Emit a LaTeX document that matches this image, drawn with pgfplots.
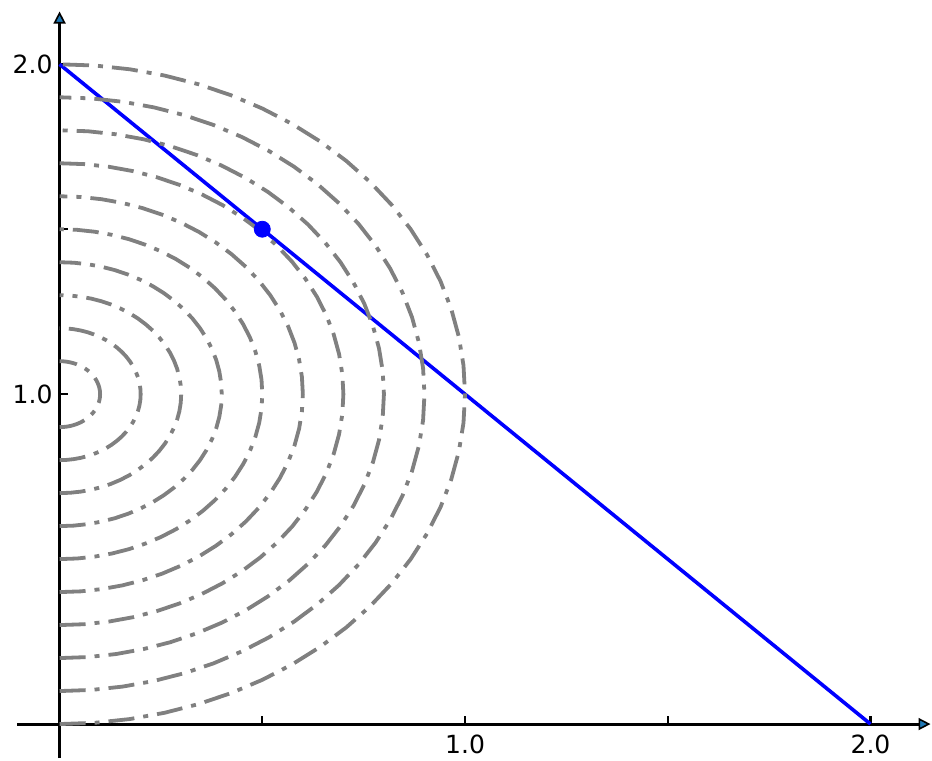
\documentclass[border=0pt]{standalone}
\usepackage{pgfplots}
\pgfplotsset{compat=1.18}
\usepackage{pgfplotstable}
\usepackage{fontspec}
\setmainfont{DejaVu Sans}
\usetikzlibrary{arrows.meta}
\definecolor{arrowblue}{RGB}{31,119,180}
\definecolor{curvegray}{RGB}{128,128,128}

% unit half circle, from -90 to 90 degrees in 5 degree steps
\pgfplotstableread{
c s
0.0000 -1.0000
0.0872 -0.9962
0.1736 -0.9848
0.2588 -0.9659
0.3420 -0.9397
0.4226 -0.9063
0.5000 -0.8660
0.5736 -0.8192
0.6428 -0.7660
0.7071 -0.7071
0.7660 -0.6428
0.8192 -0.5736
0.8660 -0.5000
0.9063 -0.4226
0.9397 -0.3420
0.9659 -0.2588
0.9848 -0.1736
0.9962 -0.0872
1.0000 0.0000
0.9962 0.0872
0.9848 0.1736
0.9659 0.2588
0.9397 0.3420
0.9063 0.4226
0.8660 0.5000
0.8192 0.5736
0.7660 0.6428
0.7071 0.7071
0.6428 0.7660
0.5736 0.8192
0.5000 0.8660
0.4226 0.9063
0.3420 0.9397
0.2588 0.9659
0.1736 0.9848
0.0872 0.9962
0.0000 1.0000
}\halfcircle

\begin{document}
\begin{tikzpicture}
\begin{axis}[
  x=202.5pt, y=164.75pt,
  xmin=-0.104, xmax=2.148, ymin=-0.103, ymax=2.16,
  axis lines=middle,
  axis line style={line width=1.5pt, -{Triangle[length=6pt,width=6pt,fill=arrowblue,line width=0.8pt]}},
  xtick={1,2}, ytick={1,2},
  minor xtick={0.5,1.5}, minor ytick={0.5,1.5},
  xticklabels={1.0,2.0}, yticklabels={1.0,2.0},
  tick align=inside,
  major tick length=4pt, minor tick length=4pt,
  every tick/.style={black, line width=1.1pt},
  tick label style={font=\fontsize{12.5}{14}\selectfont},
  xticklabel style={yshift=-2pt},
  clip=false,
  dashdot/.style={curvegray, line width=1.9pt, dash pattern=on 13pt off 4.5pt on 2.5pt off 4.5pt},
]
\addplot[blue, line width=1.8pt] coordinates {(0,2) (2,0)};
\addplot[only marks, mark=*, mark size=4pt, blue] coordinates {(0.5,1.5)};
\addplot[dashdot] table[x expr=0.1*\thisrow{c}, y expr=1+0.1*\thisrow{s}] {\halfcircle};
\addplot[dashdot] table[x expr=0.2*\thisrow{c}, y expr=1+0.2*\thisrow{s}] {\halfcircle};
\addplot[dashdot] table[x expr=0.3*\thisrow{c}, y expr=1+0.3*\thisrow{s}] {\halfcircle};
\addplot[dashdot] table[x expr=0.4*\thisrow{c}, y expr=1+0.4*\thisrow{s}] {\halfcircle};
\addplot[dashdot] table[x expr=0.5*\thisrow{c}, y expr=1+0.5*\thisrow{s}] {\halfcircle};
\addplot[dashdot] table[x expr=0.6*\thisrow{c}, y expr=1+0.6*\thisrow{s}] {\halfcircle};
\addplot[dashdot] table[x expr=0.7*\thisrow{c}, y expr=1+0.7*\thisrow{s}] {\halfcircle};
\addplot[dashdot] table[x expr=0.8*\thisrow{c}, y expr=1+0.8*\thisrow{s}] {\halfcircle};
\addplot[dashdot] table[x expr=0.9*\thisrow{c}, y expr=1+0.9*\thisrow{s}] {\halfcircle};
\addplot[dashdot] table[x expr=1.0*\thisrow{c}, y expr=1+1.0*\thisrow{s}] {\halfcircle};
\end{axis}
\path ([xshift=-3pt]current bounding box.west);
\path ([yshift=5pt]current bounding box.north);
\end{tikzpicture}
\end{document}
